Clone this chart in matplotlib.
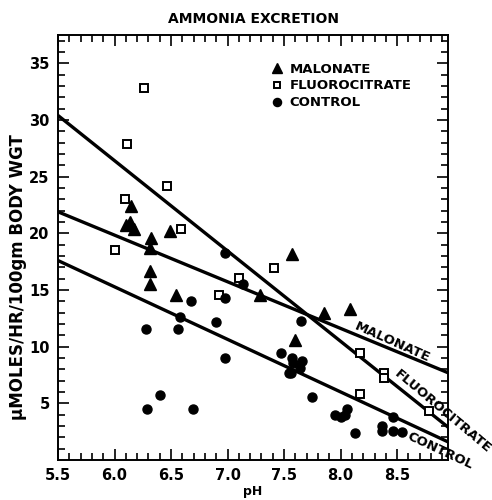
import matplotlib
matplotlib.use("Agg")
import matplotlib.pyplot as plt
import numpy as np

# ---- data ----
malonate_ph = [6.15, 6.10, 6.14, 6.17, 6.49, 6.32, 6.31, 6.31, 6.31, 6.54, 7.29, 7.57, 7.85, 8.08, 7.60]
malonate_y  = [22.4, 20.7, 21.0, 20.4, 20.2, 19.6, 18.7, 16.7, 15.5, 14.6, 14.6, 18.2, 13.0, 13.3, 10.6]

fluoro_ph = [6.26, 6.11, 6.46, 6.09, 6.59, 6.00, 7.41, 7.10, 6.92, 8.17, 8.38, 8.38, 8.17, 8.78]
fluoro_y  = [32.8, 27.9, 24.2, 23.0, 20.4, 18.5, 16.9, 16.1, 14.6, 9.4, 7.7, 7.2, 5.8, 4.3]

control_ph = [6.98, 7.14, 6.68, 6.98, 6.58, 6.90, 6.28, 6.56, 6.98, 7.47, 7.54, 6.40, 6.29, 6.69,
              7.65, 7.57, 7.58, 7.66, 7.56, 7.64, 7.75, 7.95, 8.00, 8.04, 8.06, 8.13, 8.46,
              8.37, 8.37, 8.46, 8.54]
control_y  = [18.3, 15.5, 14.0, 14.3, 12.6, 12.2, 11.6, 11.6, 9.0, 9.4, 7.7, 5.7, 4.5, 4.5,
              12.3, 9.0, 8.6, 8.7, 7.7, 8.1, 5.6, 4.0, 3.8, 4.0, 4.5, 2.4, 3.8,
              3.0, 2.6, 2.6, 2.5]

# regression lines: (y at pH 5.5, y at pH 8.95)
line_x = [5.5, 8.95]
malonate_line = [21.9, 7.7]
fluoro_line = [30.4, 2.9]
control_line = [17.6, 1.6]

legend_labels = ["MALONATE", "FLUOROCITRATE", "CONTROL"]
xticks = [5.5, 6.0, 6.5, 7.0, 7.5, 8.0, 8.5]
xticklabels = ["5.5", "6.0", "6.5", "7.0", "7.5", "8.0", "8.5"]
yticks = [5, 10, 15, 20, 25, 30, 35]

plt.rcParams['font.family'] = ['DejaVu Sans']
plt.rcParams['font.weight'] = 'bold'

fig = plt.figure(figsize=(4.92, 5.0), dpi=100)
ax = fig.add_axes([58/492, 1-460/500, (448-58)/492, (460-35)/500])

ax.plot(line_x, malonate_line, color='black', lw=2.4, zorder=2)
ax.plot(line_x, fluoro_line, color='black', lw=2.4, zorder=2)
ax.plot(line_x, control_line, color='black', lw=2.4, zorder=2)

h1, = ax.plot(malonate_ph, malonate_y, linestyle='none', marker='^', ms=8,
              mfc='black', mec='black', zorder=3)
h2, = ax.plot(fluoro_ph, fluoro_y, linestyle='none', marker='s', ms=5.5,
              mfc='white', mec='black', mew=1.4, zorder=3)
h3, = ax.plot(control_ph, control_y, linestyle='none', marker='o', ms=6.5,
              mfc='black', mec='black', zorder=3)

ax.set_xlim(5.5, 8.95)
ax.set_ylim(0, 37.5)
ax.set_xticks(xticks)
ax.set_xticklabels(xticklabels)
ax.set_yticks(yticks)
ax.set_xticks(np.arange(5.6, 8.95, 0.1), minor=True)
ax.set_yticks(np.arange(1, 37.5, 1), minor=True)
ax.tick_params(which='both', direction='in', top=True, right=True, width=1.2)
ax.tick_params(which='major', length=8, labelsize=10.5, pad=6)
ax.tick_params(which='minor', length=5)
for lab in ax.get_xticklabels() + ax.get_yticklabels():
    lab.set_fontweight('bold')
for s in ax.spines.values():
    s.set_linewidth(1.4)

ax.set_title("AMMONIA EXCRETION", fontsize=10, fontweight='bold', pad=9)
ax.set_xlabel("pH", fontsize=9, fontweight='bold', labelpad=1)
ax.set_ylabel("\u03bcMOLES/HR/100gm BODY WGT", fontsize=12, fontweight='bold')
ax.yaxis.set_label_coords(-0.08, 0.43)

leg = ax.legend([h1, h2, h3], legend_labels, loc='upper left',
                bbox_to_anchor=(0.52, 0.957), frameon=False, fontsize=9.5,
                handletextpad=0.5, labelspacing=0.3, handlelength=1.0,
                markerscale=0.9, borderpad=0.2)
for t in leg.get_texts():
    t.set_fontweight('bold')

ax.text(8.46, 10.4, "MALONATE", rotation=-24, ha='center', va='center',
        fontsize=9.5, fontweight='bold', clip_on=False)
ax.text(8.9, 4.3, "FLUOROCITRATE", rotation=-40, ha='center', va='center',
        fontsize=9.5, fontweight='bold', clip_on=False)
ax.text(8.88, 0.8, "CONTROL", rotation=-25, ha='center', va='center',
        fontsize=9.5, fontweight='bold', clip_on=False)

fig.savefig("out.png", dpi=100)
